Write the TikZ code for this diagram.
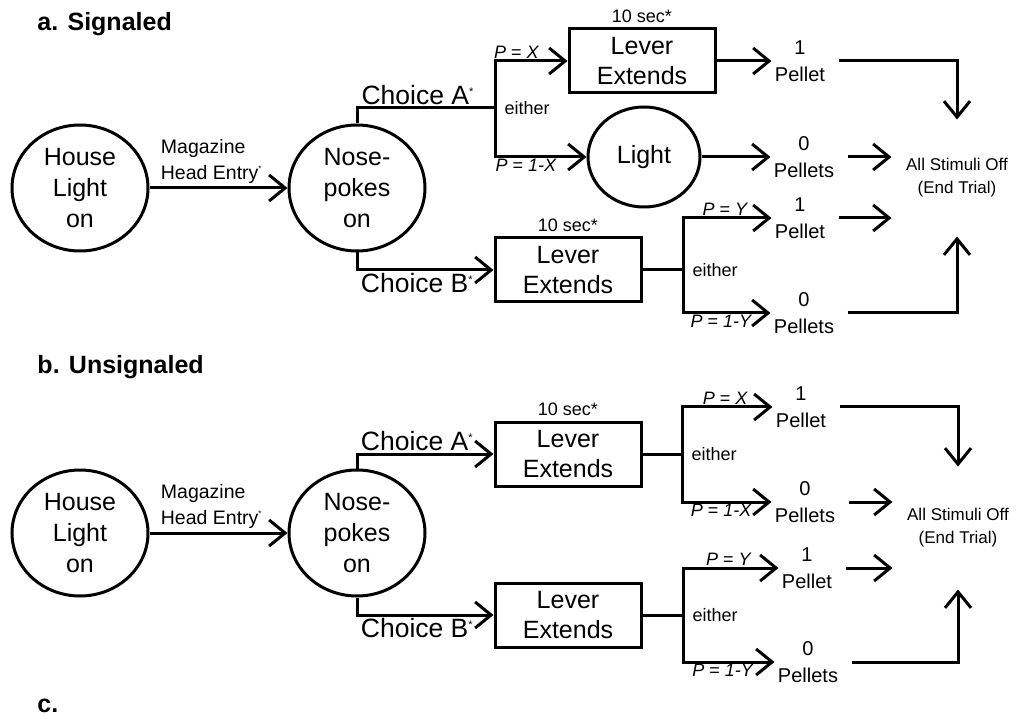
\documentclass[tikz,border=0pt]{standalone}
\usepackage{fontspec}
\setmainfont{Liberation Sans}
\usetikzlibrary{
  arrows.meta,
  positioning,
  shapes.geometric
}

\newcommand{\smallstar}[1]{\textsuperscript{\fontsize{#1}{#1}\selectfont *}}

\begin{document}
\begin{tikzpicture}[x=1pt, y=-1pt, line width=3pt]

\tikzset{
  stage/.style={
    draw,
    ellipse,
    line width=3pt,
    minimum width=136pt,
    minimum height=126pt,
    inner sep=0pt,
    align=center,
    font=\fontsize{25}{31}\selectfont
  },
  lever/.style={
    draw,
    rectangle,
    line width=3pt,
    minimum width=146pt,
    minimum height=64pt,
    inner sep=0pt,
    align=center,
    font=\fontsize{25}{30}\selectfont
  },
  outcome/.style={align=center, inner sep=2pt, font=\fontsize{20}{27}\selectfont},
  endnode/.style={align=center, minimum width=128pt, minimum height=114pt, inner sep=0pt, font=\fontsize{17}{23}\selectfont},
  sidetext/.style={inner sep=2pt, font=\fontsize{18}{22}\selectfont},
  prob/.style={inner sep=1pt, font=\fontsize{18}{22}\selectfont},
  choice/.style={inner sep=2pt, font=\fontsize{26.5}{30}\selectfont},
  heading/.style={anchor=west, inner sep=0pt, font=\fontsize{25}{30}\bfseries\selectfont},
  leave/.style={shorten <=10pt},
  >={Straight Barb[length=16pt, width=26pt]}
}

\useasboundingbox (0,0) rectangle (1018,719);

% Headings
\node[heading] (ta) at (36,24)  {a. Signaled};
\node[heading] (tb) at (36,367) {b. Unsignaled};
\node[heading] (tc) at (36,706) {c.};

% Nodes signaled
\node[stage] (houseA) at (80,188)  {House\\Light\\on};
\node[stage] (noseA)  at (357,188) {Nose-\\pokes\\on};
\node[lever] (leverA1) at (642,61)  {Lever\\Extends};
\node[stage, minimum width=112pt, minimum height=100pt] (lightA) at (644,157) {Light};
\node[lever] (leverA2) at (568,270) {Lever\\Extends};
\node[sidetext, above=1pt of leverA1] (secA1) {10 sec*};
\node[sidetext, above=1pt of leverA2] (secA2) {10 sec*};

\coordinate (jA1) at (495,108);
\coordinate (jA2) at (683,270);
\node[sidetext, right=6pt of jA1] (eitherA1) {either};
\node[sidetext, right=6pt of jA2] (eitherA2) {either};

\node[outcome] (pA1)  at (800,61)  {1\\Pellet};
\node[outcome] (pA0)  at (804,157) {0\\Pellets};
\node[outcome] (pA1b) at (800,218) {1\\Pellet};
\node[outcome] (pA0b) at (804,313) {0\\Pellets};
\node[endnode] (offA) at (957,178) {All Stimuli Off\\(End Trial)};

% Nodes unsignaled
\node[stage] (houseB) at (80,533)  {House\\Light\\on};
\node[stage] (noseB)  at (357,533) {Nose-\\pokes\\on};
\node[lever] (leverB1) at (568,454) {Lever\\Extends};
\node[lever] (leverB2) at (568,615) {Lever\\Extends};
\node[sidetext, above=1pt of leverB1] (secB1) {10 sec*};

\coordinate (jB1) at (682,454);
\coordinate (jB2) at (683,615);
\node[sidetext, right=6pt of jB1] (eitherB1) {either};
\node[sidetext, right=6pt of jB2] (eitherB2) {either};

\node[outcome] (pB1)  at (801,407) {1\\Pellet};
\node[outcome] (pB0)  at (805,502) {0\\Pellets};
\node[outcome] (pB1b) at (807,568) {1\\Pellet};
\node[outcome] (pB0b) at (808,662) {0\\Pellets};
\node[endnode, minimum height=120pt] (offB) at (958,528) {All Stimuli Off\\(End Trial)};

% Arrows signaled
\draw[->] (houseA) -- node[midway, above, xshift=-7pt, align=left, font=\fontsize{19.5}{26}\selectfont, inner sep=3pt] {Magazine\\Head Entry\smallstar{8}} (noseA);
\draw (noseA.north) |- node[pos=0.72, above, choice] {Choice A\smallstar{11}} (jA1);
\draw[->] (jA1) |- node[pos=0.65, above, prob] {\textit{P} = \textit{X}} (leverA1.west);
\draw[->] (jA1) |- node[pos=0.67, below, prob] {\textit{P} = \textit{1-X}} (lightA.west);
\draw[->] (noseA.south) |- node[pos=0.72, below, choice] {Choice B\smallstar{11}} (leverA2.west);
\draw (leverA2.east) -- (jA2);
\draw[->] (jA2) |- node[pos=0.74, above, prob] {\textit{P} = \textit{Y}} (pA1b.west);
\draw[->] (jA2) |- node[pos=0.72, below, prob] {\textit{P} = \textit{1-Y}} (pA0b.west);
\draw[->] (leverA1) -- (pA1);
\draw[->] (lightA) -- (pA0);

% Arrows end signaled
\draw[->, leave] (pA1.east) -| (offA.north);
\draw[->, leave] (pA0.east) -- (pA0.east -| offA.west);
\draw[->, leave] (pA1b.east) -- (pA1b.east -| offA.west);
\draw[->, leave] (pA0b.east) -| (offA.south);

% Arrows unsignaled
\draw[->] (houseB) -- node[midway, above, xshift=-7pt, align=left, font=\fontsize{19.5}{26}\selectfont, inner sep=3pt] {Magazine\\Head Entry\smallstar{8}} (noseB);
\draw[->] (noseB.north) |- node[pos=0.72, above, choice] {Choice A\smallstar{11}} (leverB1.west);
\draw[->] (noseB.south) |- node[pos=0.72, below, choice] {Choice B\smallstar{11}} (leverB2.west);
\draw (leverB1.east) -- (jB1);
\draw (leverB2.east) -- (jB2);
\draw[->] (jB1) |- node[pos=0.74, above, prob] {\textit{P} = \textit{X}} (pB1.west);
\draw[->] (jB1) |- node[pos=0.72, below, prob] {\textit{P} = \textit{1-X}} (pB0.west);
\draw[->] (jB2) |- node[pos=0.74, above, prob] {\textit{P} = \textit{Y}} (pB1b.west);
\draw[->] (jB2) |- node[pos=0.72, below, prob] {\textit{P} = \textit{1-Y}} (pB0b.west);

% Arrows end unsignaled
\draw[->, leave] (pB1.east) -| (offB.north);
\draw[->, leave] (pB0.east) -- (pB0.east -| offB.west);
\draw[->, leave] (pB1b.east) -- (pB1b.east -| offB.west);
\draw[->, leave] (pB0b.east) -| (offB.south);

\end{tikzpicture}
\end{document}
